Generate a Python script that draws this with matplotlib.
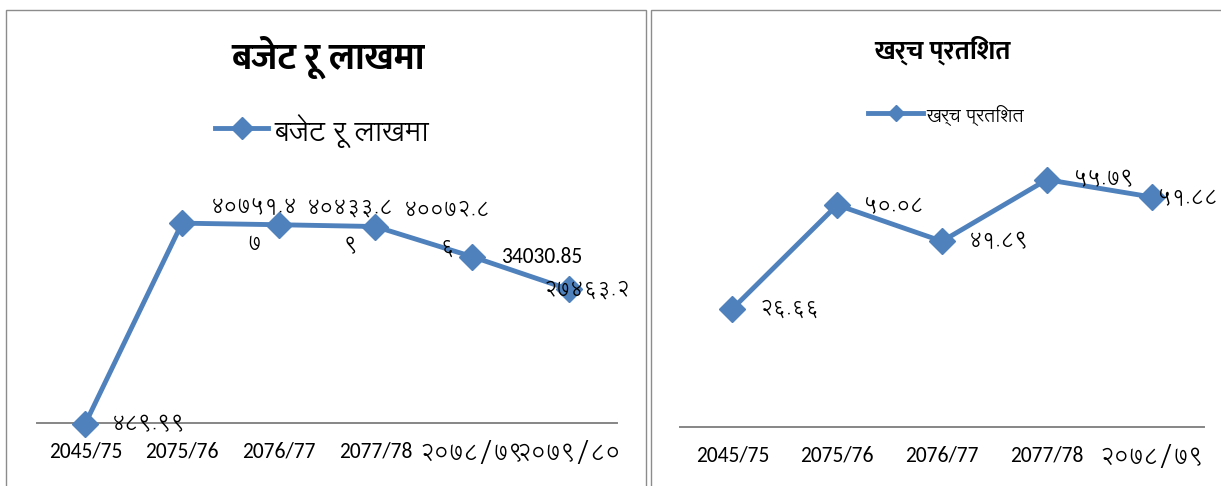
import matplotlib
matplotlib.use("Agg")
import matplotlib.pyplot as plt
from matplotlib.patches import Rectangle
from matplotlib.lines import Line2D

# ---------------- data ----------------
budget_title = "बजेट रू लाखमा"
budget_categories = ["2045/75", "2075/76", "2076/77", "2077/78", "२०७८/७९", "२०७९/८०"]
budget_values = [489.99, 40751.47, 40433.89, 40072.86, 34030.85, 27463.2]
budget_label_text = ["४८९.९९", "४०७५१.४७", "४०४३३.८९", "४००७२.८६", "34030.85", "२७४६३.२"]

expense_title = "खर्च प्रतिशत"
expense_categories = ["2045/75", "2075/76", "2076/77", "2077/78", "२०७८/७९"]
expense_values = [26.66, 50.08, 41.89, 55.79, 51.88]
expense_label_text = ["२६.६६", "५०.०८", "४१.८९", "५५.७९", "५१.८८"]

W, H = 1221, 486
DPI = 100
PT = 72.0 / DPI  # points per pixel
BLUE = "#4F81BD"
GRAY = "#8C8C8C"
DEVF = "Lohit Devanagari"
FONTS = ["Carlito", DEVF, "DejaVu Sans"]
DEV = [DEVF, "DejaVu Sans"]
TITLEF = ["Mukta", DEVF, "DejaVu Sans"]

plt.rcParams["font.family"] = FONTS

fig = plt.figure(figsize=(W / DPI, H / DPI), dpi=DPI)


def fx(px):
    return px / W


def fy(py):
    return 1 - py / H


# panel frames
fig.patches.append(Rectangle((fx(6), fy(490)), fx(640), fy(10) - fy(490),
                             transform=fig.transFigure, fill=False,
                             edgecolor=GRAY, linewidth=1.0))
fig.patches.append(Rectangle((fx(651), fy(490)), fx(580), fy(10) - fy(490),
                             transform=fig.transFigure, fill=False,
                             edgecolor=GRAY, linewidth=1.0))


def make_axes(left, right, bottom, top):
    ax = fig.add_axes([fx(left), fy(bottom), fx(right) - fx(left), fy(top) - fy(bottom)])
    for s in ["top", "right", "left"]:
        ax.spines[s].set_visible(False)
    ax.spines["bottom"].set_color("#868686")
    ax.spines["bottom"].set_linewidth(1.4)
    ax.set_yticks([])
    ax.tick_params(axis="x", length=0, pad=13, labelsize=15.5)
    ax.patch.set_alpha(0)
    return ax


def dev_ticks(ax):
    for lab in ax.get_xticklabels():
        t = lab.get_text()
        if any("\u0900" <= ch <= "\u097F" for ch in t):
            lab.set_fontsize(16.5)
            lab.set_family(DEV)


LAB_FS = 15
lab_kw = dict(textcoords="offset points", va="center", annotation_clip=False)

# ---------------- left panel ----------------
axL = make_axes(37, 617, 426, 202)
xL = list(range(len(budget_categories)))
axL.plot(xL, budget_values, color=BLUE, lw=3.5, marker="D", markersize=13.5,
         solid_joinstyle="round", clip_on=False, zorder=3)
axL.set_xlim(-0.5, len(budget_categories) - 0.5)
axL.set_ylim(0, 45000)
axL.spines["bottom"].set_position(("data", 600))
axL.set_xticks(xL)
axL.set_xticklabels(budget_categories)
dev_ticks(axL)

axL.annotate(budget_label_text[0], (xL[0], budget_values[0]), xytext=(27 * PT, -1 * PT),
             ha="left", fontsize=LAB_FS, family=DEV, zorder=4, **lab_kw)
for i in (1, 2, 3):
    t = budget_label_text[i]
    axL.annotate(t[:7] + "\n" + t[7:], (xL[i], budget_values[i]), xytext=(72 * PT, -2 * PT),
                 ha="center", multialignment="center", linespacing=2.15,
                 fontsize=LAB_FS, family=DEV, zorder=4, **lab_kw)
axL.annotate(budget_label_text[4], (xL[4], budget_values[4]), xytext=(29 * PT, 0),
             ha="left", fontsize=15.5, zorder=4, **lab_kw)
axL.annotate(budget_label_text[5], (xL[5], budget_values[5]), xytext=(-25 * PT, 0),
             ha="left", fontsize=LAB_FS, family=DEV, zorder=4, **lab_kw)

fig.text(fx(328), fy(57), budget_title, ha="center", va="center", fontsize=26.5,
         fontweight="bold", family=TITLEF)
# legend
fig.add_artist(Line2D([fx(215), fx(268)], [fy(128), fy(128)], color=BLUE, lw=3.5,
                      transform=fig.transFigure))
fig.add_artist(Line2D([fx(241.5)], [fy(128)], color=BLUE, marker="D", markersize=11,
                      transform=fig.transFigure))
fig.text(fx(274), fy(131), budget_title, ha="left", va="center", fontsize=20.5, family=DEV)

# ---------------- right panel ----------------
axR = make_axes(680, 1204, 427, 161)
xR = list(range(len(expense_categories)))
axR.plot(xR, expense_values, color=BLUE, lw=3.5, marker="D", markersize=13.5,
         solid_joinstyle="round", clip_on=False, zorder=3)
axR.set_xlim(-0.5, len(expense_categories) - 0.5)
axR.set_ylim(0, 60)
axR.set_xticks(xR)
axR.set_xticklabels(expense_categories)
dev_ticks(axR)
for i in range(len(expense_values)):
    off = 27 if i < 4 else 6
    axR.annotate(expense_label_text[i], (xR[i], expense_values[i]), xytext=(off * PT, 0),
                 ha="left", fontsize=LAB_FS, family=DEV, zorder=4, **lab_kw)

fig.text(fx(943), fy(50), expense_title, ha="center", va="center", fontsize=19,
         fontweight="bold", family=TITLEF)
fig.add_artist(Line2D([fx(868), fx(923)], [fy(113), fy(113)], color=BLUE, lw=3.5,
                      transform=fig.transFigure))
fig.add_artist(Line2D([fx(895.5)], [fy(113)], color=BLUE, marker="D", markersize=8,
                      transform=fig.transFigure))
fig.text(fx(926), fy(116), expense_title, ha="left", va="center", fontsize=13.5, family=DEV)

fig.savefig("out.png", dpi=DPI)
